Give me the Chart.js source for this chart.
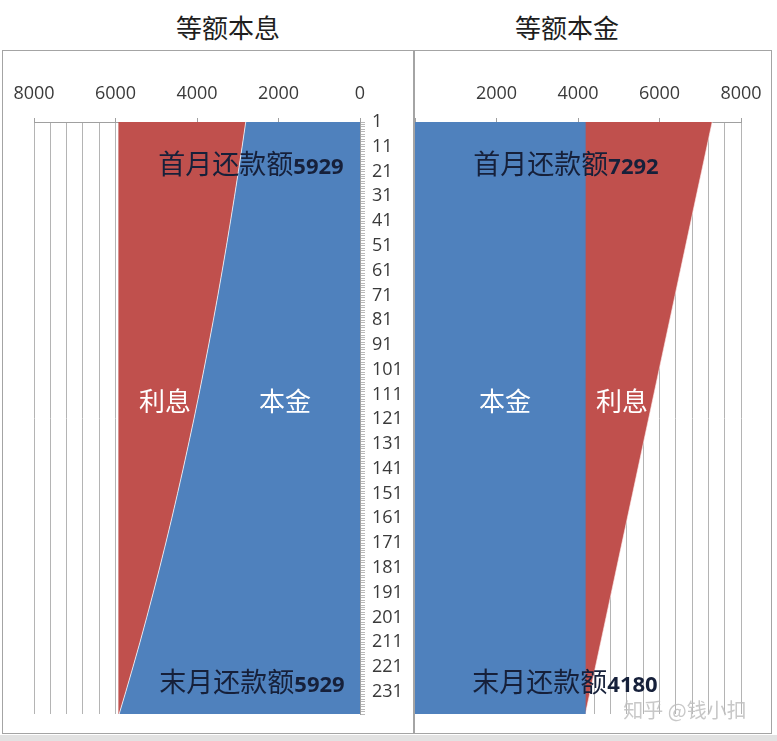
<!DOCTYPE html>
<html>
<head>
<meta charset="utf-8">
<script src="https://cdn.jsdelivr.net/npm/chart.js@4.4.0/dist/chart.umd.min.js"></script>
<style>
  body { margin:0; background:#fff; width:777px; height:741px; position:relative; overflow:hidden; font-family:"Noto Sans CJK SC", sans-serif; }
  .box { position:absolute; border:1.5px solid #a4a4a4; box-sizing:border-box; }
  .wrap { position:absolute; }
  .t { position:absolute; transform:translate(-50%,-50%); white-space:nowrap; line-height:1; }
  .title { font-size:26px; color:#1e1e1e; }
  .note { font-size:27px; color:#16203a; }
  .note b { font-family:"Open Sans", sans-serif; font-size:22px; font-weight:700; }
  .part { font-size:26px; color:#fff; }
  .mark { font-size:20px; color:rgba(190,190,190,0.85); }
</style>
</head>
<body>

<div style="position:absolute;left:0;top:735px;width:777px;height:6px;background:#e2e2e2"></div>
<div class="box" style="left:2px;top:50px;width:412px;height:684px"></div>
<div class="box" style="left:414px;top:50px;width:358px;height:684px"></div>

<div class="wrap" style="left:2px;top:50px;width:411px;height:683px"><canvas id="canvas"></canvas></div>
<div class="wrap" style="left:415px;top:50px;width:358px;height:683px"><canvas id="canvas1"></canvas></div>

<div class="t title" style="left:228px;top:27px">等额本息</div>
<div class="t title" style="left:567px;top:27px">等额本金</div>

<div class="t note" style="left:251px;top:162px">首月还款额<b>5929</b></div>
<div class="t note" style="left:252px;top:680px">末月还款额<b>5929</b></div>
<div class="t note" style="left:566px;top:162px">首月还款额<b>7292</b></div>
<div class="t note" style="left:565px;top:680px">末月还款额<b>4180</b></div>

<div class="t part" style="left:165px;top:400px">利息</div>
<div class="t part" style="left:285px;top:400px">本金</div>
<div class="t part" style="left:505px;top:400px">本金</div>
<div class="t part" style="left:622px;top:400px">利息</div>

<div class="t mark" style="left:685px;top:710px">知乎 @钱小扣</div>

<script>
/* data (month -> yuan) */
const months = [1, 11, 21, 31, 41, 51, 61, 71, 81, 91, 101, 111, 121, 131, 141, 151, 161, 171, 181, 191, 201, 211, 221, 231, 240];
const monthLabels = [1, 11, 21, 31, 41, 51, 61, 71, 81, 91, 101, 111, 121, 131, 141, 151, 161, 171, 181, 191, 201, 211, 221, 231];
const valueLabels = [0, 2000, 4000, 6000, 8000];

/* 等额本息 */
const benjinA = [2804, 2893, 2985, 3079, 3177, 3277, 3381, 3488, 3599, 3713, 3831, 3952, 4077, 4207, 4340, 4478, 4619, 4766, 4917, 5073, 5234, 5399, 5571, 5747, 5910];
const lixiA   = [3125, 3036, 2944, 2850, 2752, 2652, 2548, 2441, 2330, 2216, 2098, 1977, 1852, 1722, 1589, 1451, 1310, 1163, 1012, 856, 695, 530, 358, 182, 19];

/* 等额本金 */
const benjinB = [4167, 4167, 4167, 4167, 4167, 4167, 4167, 4167, 4167, 4167, 4167, 4167, 4167, 4167, 4167, 4167, 4167, 4167, 4167, 4167, 4167, 4167, 4167, 4167, 4167];
const lixiB   = [3125, 2995, 2865, 2734, 2604, 2474, 2344, 2214, 2083, 1953, 1823, 1693, 1563, 1432, 1302, 1172, 1042, 911, 781, 651, 521, 391, 260, 130, 13];

const blue = '#4F81BD';
const red = '#C0504D';
const gridGray = '#b4b4b4';
const tickFont = { family: 'Open Sans', size: 18 };

function points(vals){
    return vals.map(function(v, i){ return { x: v, y: months[i] }; });
}

function valueAxis(reverse, showZero){
    return {
        type: 'linear',
        position: 'top',
        reverse: reverse,
        stacked: true,
        min: 0,
        max: 8000,
        afterFit: function(s){
            s.height = 72;
            s.paddingLeft = 0;
            s.paddingRight = 0;
        },
        border: { display: true, color: '#a0a0a0' },
        grid: {
            color: gridGray,
            tickLength: 4,
            tickColor: function(c){ return c.tick && valueLabels.includes(c.tick.value) ? '#a0a0a0' : 'transparent'; }
        },
        ticks: {
            stepSize: 400,
            autoSkip: false,
            maxRotation: 0,
            padding: 13,
            color: '#3a3a3a',
            font: tickFont,
            callback: function(v){
                if (v === 0 && !showZero) return '';
                return valueLabels.includes(v) ? String(v) : '';
            }
        }
    };
}

/* left chart: 等额本息 */
const ctx = document.getElementById('canvas');
new Chart(ctx, {
    type: 'line',
    data: {
        datasets: [{
            label: '本金',
            data: points(benjinA),
            fill: 'origin',
            backgroundColor: blue,
            borderColor: 'rgba(255,255,255,0.75)',
            borderWidth: 1,
            pointRadius: 0
        },
        {
            label: '利息',
            data: points(lixiA),
            fill: '-1',
            backgroundColor: red,
            borderColor: 'transparent',
            borderWidth: 0,
            pointRadius: 0
        }]
    },
    options: {
        indexAxis: 'y',
        responsive: true,
        maintainAspectRatio: false,
        animation: false,
        layout: { padding: { left: 32, right: 0, top: 0, bottom: 19 } },
        plugins: { legend: { display: false }, tooltip: { enabled: false } },
        scales: {
            x: valueAxis(true, true),
            y: {
                type: 'linear',
                position: 'right',
                reverse: true,
                min: 1,
                max: 240,
                afterFit: function(s){ s.width = 53; },
                afterBuildTicks: function(s){
                    s.ticks = Array.from({ length: 240 }, function(_, i){ return { value: i + 1 }; });
                },
                border: { display: true, color: '#a0a0a0' },
                grid: { drawOnChartArea: false, tickLength: 5, tickColor: '#b8b8b8' },
                ticks: {
                    autoSkip: false,
                    padding: 7,
                    color: '#3a3a3a',
                    font: tickFont,
                    callback: function(v){ return monthLabels.includes(v) ? String(v) : ''; }
                }
            }
        }
    }
});

/* right chart: 等额本金 */
const ctx1 = document.getElementById('canvas1');
new Chart(ctx1, {
    type: 'line',
    data: {
        datasets: [{
            label: '本金',
            data: points(benjinB),
            fill: 'origin',
            backgroundColor: blue,
            borderColor: blue,
            borderWidth: 1,
            pointRadius: 0
        },
        {
            label: '利息',
            data: points(lixiB),
            fill: '-1',
            backgroundColor: red,
            borderColor: 'rgba(255,235,235,0.6)',
            borderWidth: 1,
            pointRadius: 0
        }]
    },
    options: {
        indexAxis: 'y',
        responsive: true,
        maintainAspectRatio: false,
        animation: false,
        layout: { padding: { left: 0, right: 32, top: 0, bottom: 19 } },
        plugins: { legend: { display: false }, tooltip: { enabled: false } },
        scales: {
            x: valueAxis(false, false),
            y: { type: 'linear', display: false, reverse: true, min: 1, max: 240 }
        }
    }
});
</script>
</body>
</html>
